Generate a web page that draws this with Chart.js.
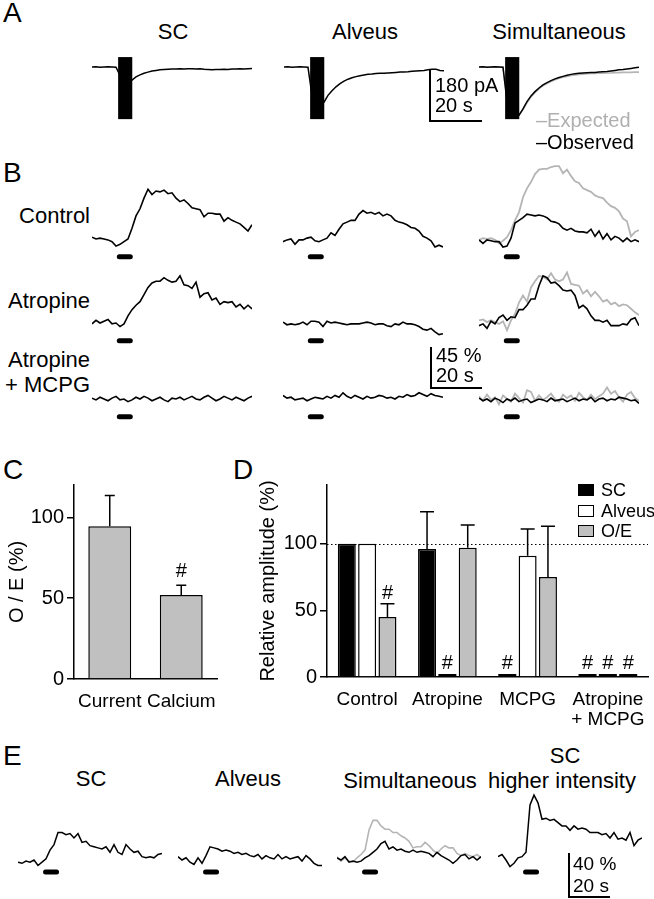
<!DOCTYPE html>
<html><head><meta charset="utf-8">
<script src="https://cdn.jsdelivr.net/npm/chart.js@4.4.1/dist/chart.umd.min.js"></script>
<style>
html,body{margin:0;padding:0;background:#fff;}
body{width:654px;height:899px;position:relative;overflow:hidden;font-family:"Liberation Sans",Arial,Helvetica,sans-serif;color:#000;}
canvas{position:absolute;}
.t{position:absolute;white-space:nowrap;line-height:1;}
.ln{position:absolute;background:#000;}
.box{position:absolute;border:1.5px solid #000;box-sizing:border-box;}
</style></head><body>
<script>
// ---------------- DATA ----------------
// Panel A: currents (pA), sampled every 1.5 s
const A_DT = 1.5;
const currentSC   = [0,1,-1,0,1,0,-1,-30,-60,-55,-46,-35,-28,-22,-18,-14,-12,-10,-9,-8,-7,-7,-6,-7,-6,-6,-7,-6,-8,-9,-10,-9,-9,-8,-9,-7,-7,-6,-7,-6,-5];
const currentAlv  = [0,1,-1,0,1,0,-1,-100,-140,-135,-124,-100,-84,-70,-59,-50,-43,-38,-34,-31,-28,-26,-25,-23,-22,-22,-21,-20,-19,-18,-18,-17,-15,-14,-13,-12,-10,-8,-8,-12,-13];
const currentObs  = [0,1,-1,0,1,0,-1,-120,-175,-180,-170,-148,-122,-102,-87,-74,-63,-55,-48,-42,-37,-33,-29,-26,-24,-22,-21,-20,-19,-19,-18,-17,-16,-14,-12,-10,-9,-7,-5,-3,-1];
const currentExp  = [0,1,-1,0,1,0,-1,-120,-175,-180,-170,-150,-126,-106,-90,-77,-66,-58,-51,-45,-40,-36,-33,-30,-28,-26,-25,-24,-23,-23,-22,-22,-21,-21,-20,-20,-19,-19,-19,-18,-18];
const artifactWindow = [9.8, 15.1];   // s
const artifactRange  = [35, -184];    // pA

// Panel B: calcium signals (%), sampled every 1.5 s
const B_DT = 1.5;
const ctlSC     = [2,0,1,0,-1,-3,-8,-6,-3,0,12,26,34,46,56,50,54,53,55,51,52,46,42,44,40,35,34,33,25,29,29,28,28,20,24,21,19,17,13,9,16];
const ctlAlv    = [-3,-1,0,-6,-1,-1,1,2,-2,-3,-1,1,7,4,11,17,19,21,21,28,32,29,30,28,30,26,28,26,21,19,18,16,13,12,9,3,1,-2,-9,-7,-9];
const ctlObs    = [-1,-5,-1,-2,-3,-3,-9,-8,1,18,21,24,28,27,26,27,26,24,20,19,17,12,10,12,9,8,8,7,11,3,9,0,6,-1,3,1,-3,1,-3,-1,-3];
const ctlExp    = [-1,1,0,1,-1,-5,-2,2,10,21,30,47,57,64,73,78,79,79,81,82,82,74,78,71,65,63,57,55,53,49,47,46,41,37,35,31,23,20,3,8,10];
const atrSC     = [-1,3,0,2,4,-1,0,-4,-1,8,15,20,24,32,40,45,47,47,51,48,46,47,53,43,42,39,46,29,33,34,26,28,21,24,23,24,18,21,16,20,16];
const atrAlv    = [1,-2,-1,-2,-1,1,-2,2,2,1,-4,2,0,1,0,-1,-2,-1,-1,-1,0,1,0,-2,-1,-1,-3,-4,-1,-2,1,-1,-1,-2,-4,-7,-8,-6,-10,-13,-12];
const atrObs    = [-3,-1,-6,2,-1,6,9,3,7,6,15,15,20,27,27,42,53,51,45,46,42,37,36,37,31,17,20,16,8,3,3,1,3,-3,-3,-3,-1,-2,4,6,-3];
const atrExp    = [3,4,1,3,1,-1,2,-8,3,10,23,31,24,40,47,53,52,49,56,49,47,49,57,44,43,42,33,37,30,35,30,24,26,21,23,19,21,20,16,12,9];
const amSC      = [1,-1,2,0,-2,1,3,-1,0,-3,-1,2,0,3,1,-2,0,2,-1,-3,1,0,2,-1,1,3,0,-1,2,4,1,-2,0,3,1,-1,2,0,-2,1,3];
const amAlv     = [4,1,2,-1,0,1,-2,0,2,1,0,3,1,4,2,7,3,1,4,2,0,3,1,2,4,3,1,2,0,3,2,5,3,4,7,5,3,6,4,3,2];
const amObs     = [1,-2,0,-3,1,-1,-4,0,-2,1,-3,-1,0,-4,-2,0,-1,-3,1,-2,-1,0,-3,-1,1,-2,0,-1,2,-3,0,1,-2,0,-1,2,1,0,-2,-1,-5];
const amExp     = [3,-2,5,-1,2,-6,4,0,-3,6,1,-4,10,8,-2,4,-1,2,6,0,-3,5,1,4,-2,7,2,-1,5,0,3,6,13,6,9,2,-3,5,8,1,-2];
const stimB     = [9.3, 15.3];   // s
const stimLevelB = -20;          // % (stimulus marker under traces)

// Panel C: observed / expected (%)
const condC = ['Current', 'Calcium'];
const oeC   = [94.5, 52];
const errC  = [19, 6];
const sigC  = ['', '#'];

// Panel D: relative amplitude (%)
const groupsD = ['Control', 'Atropine', 'MCPG', ['Atropine', '+ MCPG']];
const seriesD = ['SC', 'Alveus', 'O/E'];
const scD   = [100, 96, 1, 1];
const scErr = [0, 28, 0, 0];
const scSig = ['', '', '#', '#'];
const alD   = [100, 1, 91, 1];
const alErr = [0, 0, 20, 0];
const alSig = ['', '#', '', '#'];
const oeD   = [45, 97, 75, 1];
const oeErr = [10, 17, 38, 0];
const oeSig = ['#', '', '', '#'];
const refD  = 100;

// Panel E: calcium signals (%), sampled every 1.9 s
const E_DT = 1.9;
const eSC   = [-2,-3,-1,-2,0,-5,-2,1,9,14,25,25,23,24,20,24,16,17,13,12,11,10,12,7,14,7,5,14,10,7,8,3,2,3,2,5,6];
const eAlv  = [3,0,2,-2,-4,2,-3,4,12,11,10,8,9,8,6,7,5,6,4,3,5,1,4,2,1,5,1,3,1,2,3,-1,4,1,-3,-5,-5];
const eObs  = [2,0,3,-2,-1,-2,-1,2,4,7,10,15,17,10,12,9,10,8,7,9,7,8,7,6,3,7,4,2,0,-3,0,4,5,1,3,0,3];
const eExp  = [3,-1,2,-1,-2,2,5,9,27,36,36,31,28,28,25,25,22,20,17,11,12,12,16,13,9,6,10,13,11,11,6,4,6,4,3,5,2];
const eHigh = [3,5,0,-6,-3,2,3,7,50,59,52,37,38,36,37,34,31,31,27,31,28,29,28,25,25,25,23,24,20,25,19,20,18,25,13,18,20];
const stimE = [11.9, 19.5];
const stimLevelE = -11;

// ---------------- STYLE / LAYOUT ----------------
const FONT = '"Liberation Sans", Arial, Helvetica, sans-serif';
const BLACK = '#000', GREYLINE = '#b5b5b5', GREYBAR = '#c0c0c0';
Chart.defaults.font.family = FONT;
Chart.defaults.color = '#000';
Chart.defaults.animation = false;

function canvasAt(left, top, w, h) {
  const c = document.createElement('canvas');
  c.width = w; c.height = h;
  c.style.left = left + 'px'; c.style.top = top + 'px';
  c.style.width = w + 'px'; c.style.height = h + 'px';
  document.body.appendChild(c);
  return c;
}
function txt(s, x, y, size, align, color) {
  const d = document.createElement('div');
  d.className = 't'; d.textContent = s; d.style.fontSize = size + 'px'; d.style.top = y + 'px';
  if (align === 'center') { d.style.left = x + 'px'; d.style.transform = 'translate(-50%,-50%)'; }
  else if (align === 'right') { d.style.right = (654 - x) + 'px'; d.style.transform = 'translateY(-50%)'; }
  else { d.style.left = x + 'px'; d.style.transform = 'translateY(-50%)'; }
  if (color) d.style.color = color;
  document.body.appendChild(d);
}
function rect(cls, l, t, w, h, bg) {
  const d = document.createElement('div'); d.className = cls;
  Object.assign(d.style, {left: l + 'px', top: t + 'px', width: w + 'px', height: h + 'px'});
  if (bg) d.style.background = bg;
  document.body.appendChild(d);
}
function scaleBar(x, y0, y1, x1) {
  rect('ln', x, y0, 1.5, y1 - y0 + 1.5);
  rect('ln', x, y1, x1 - x, 1.5);
}

const markPlugin = {
  id: 'marks',
  afterDatasetsDraw(chart, args, o) {
    const {ctx, scales: {x, y}} = chart;
    ctx.save(); ctx.fillStyle = BLACK;
    if (o.stim) {
      const x0 = x.getPixelForValue(o.stim[0]), x1 = x.getPixelForValue(o.stim[1]);
      const yc = y.getPixelForValue(o.stimLevel);
      ctx.beginPath(); ctx.roundRect(x0, yc - 2.5, x1 - x0, 5, 2.5); ctx.fill();
    }
    if (o.artifact) {
      const x0 = x.getPixelForValue(o.artifact[0]), x1 = x.getPixelForValue(o.artifact[1]);
      const y0 = y.getPixelForValue(o.artifactRange[0]), y1 = y.getPixelForValue(o.artifactRange[1]);
      ctx.fillRect(x0, y0, x1 - x0, y1 - y0);
    }
    ctx.restore();
  }
};

function traceChart(left, top, w, h, base, k, dt, n, series, marks) {
  const c = canvasAt(left, top, w, h);
  const t = Array.from({length: n}, (_, i) => i * dt);
  new Chart(c, {
    type: 'line',
    data: {datasets: series.map(s => ({
      data: s.v.map((v, i) => ({x: t[i], y: v})),
      borderColor: s.c, borderWidth: s.w, pointRadius: 0, tension: 0, clip: false, fill: false
    }))},
    options: {
      responsive: false, animation: false, events: [], layout: {padding: 0},
      plugins: {legend: {display: false}, tooltip: {enabled: false}, marks: marks || {}},
      scales: {
        x: {type: 'linear', display: false, min: 0, max: (n - 1) * dt},
        y: {type: 'linear', display: false, min: -(top + h - base) * k, max: (base - top) * k}
      }
    },
    plugins: [markPlugin]
  });
}

// ---------- Panel A ----------
txt('A', 3, 13, 28);
txt('SC', 173, 32, 22, 'center');
txt('Alveus', 365, 32, 22, 'center');
txt('Simultaneous', 559, 32, 22, 'center');
const kA = 180 / 51;
const artA = {artifact: artifactWindow, artifactRange};
traceChart(92, 45, 160, 85, 67, kA, A_DT, currentSC.length, [{v: currentSC, c: BLACK, w: 1.5}], artA);
traceChart(284, 45, 160, 85, 67, kA, A_DT, currentAlv.length, [{v: currentAlv, c: BLACK, w: 1.5}], artA);
traceChart(479, 45, 160, 85, 67, kA, A_DT, currentObs.length, [{v: currentObs, c: BLACK, w: 1.5}, {v: currentExp, c: GREYLINE, w: 1.6}], artA);
scaleBar(429, 69, 120, 482);
txt('180 pA', 435, 85, 20);
txt('20 s', 435, 105, 20);
txt('–Expected', 536, 120, 20, null, '#b0b0b0');
txt('–Observed', 536, 142, 20);

// ---------- Panel B ----------
txt('B', 3, 173, 28);
txt('Control', 90, 216, 22, 'right');
txt('Atropine', 90, 301, 22, 'right');
txt('Atropine', 90, 360, 22, 'right');
txt('+ MCPG', 90, 385, 22, 'right');
const kB = 45 / 40;
const stB = {stim: stimB, stimLevel: stimLevelB};
const rowsB = [
  {top: 160, h: 105, base: 239, sc: ctlSC, al: ctlAlv, ob: ctlObs, ex: ctlExp},
  {top: 265, h: 85, base: 323, sc: atrSC, al: atrAlv, ob: atrObs, ex: atrExp},
  {top: 378, h: 47, base: 399, sc: amSC, al: amAlv, ob: amObs, ex: amExp}
];
rowsB.forEach(r => {
  traceChart(92, r.top, 160, r.h, r.base, kB, B_DT, r.sc.length, [{v: r.sc, c: BLACK, w: 1.6}], stB);
  traceChart(283, r.top, 160, r.h, r.base, kB, B_DT, r.al.length, [{v: r.al, c: BLACK, w: 1.6}], stB);
  traceChart(479, r.top, 160, r.h, r.base, kB, B_DT, r.ob.length, [{v: r.ob, c: BLACK, w: 1.6}, {v: r.ex, c: GREYLINE, w: 1.8}], stB);
});
scaleBar(430, 347, 387, 482);
txt('45 %', 436, 355, 20);
txt('20 s', 436, 375, 20);

// ---------- Bar chart helpers ----------
const barExtras = {
  id: 'barExtras',
  beforeDatasetsDraw(chart, args, o) {
    if (o.refLine == null) return;
    const {ctx, chartArea, scales: {y}} = chart;
    const yy = Math.round(y.getPixelForValue(o.refLine)) + 0.5;
    ctx.save(); ctx.strokeStyle = BLACK; ctx.lineWidth = 1.2; ctx.setLineDash([1.5, 2.5]);
    ctx.beginPath(); ctx.moveTo(chartArea.left, yy); ctx.lineTo(chartArea.right, yy); ctx.stroke();
    ctx.restore();
  },
  afterDatasetsDraw(chart, args, o) {
    const {ctx, scales: {y}} = chart;
    const y0 = y.getPixelForValue(0);
    ctx.save();
    ctx.strokeStyle = BLACK; ctx.fillStyle = BLACK; ctx.lineWidth = 1.5;
    ctx.font = '20px ' + FONT; ctx.textAlign = 'center'; ctx.textBaseline = 'alphabetic';
    chart.data.datasets.forEach((ds, di) => {
      const meta = chart.getDatasetMeta(di);
      meta.data.forEach((bar, i) => {
        const e = o.err[di][i] || 0;
        const yt = y.getPixelForValue(ds.data[i] + e);
        // near-zero bars are drawn as a flat black bar on the axis
        if (ds.data[i] <= 1) ctx.fillRect(bar.x - bar.width / 2, y0 - 3, bar.width, 3);
        if (e) {
          ctx.beginPath();
          ctx.moveTo(bar.x, bar.y); ctx.lineTo(bar.x, yt);
          ctx.moveTo(bar.x - o.cap / 2, yt); ctx.lineTo(bar.x + o.cap / 2, yt);
          ctx.stroke();
        }
        if (o.sig[di][i]) ctx.fillText(o.sig[di][i], bar.x, Math.min(yt, y0 - 3) - o.gap);
      });
    });
    ctx.restore();
  }
};
function yAxis(max, width, title, titlePad) {
  return {
    min: 0, max: max,
    ticks: {stepSize: 50, includeBounds: false, font: {size: 20}, padding: 3, color: BLACK},
    grid: {drawOnChartArea: false, color: BLACK, lineWidth: 1.5, tickLength: 7},
    border: {display: true, color: BLACK, width: 1.5},
    title: {display: true, text: title, font: {size: 20}, color: BLACK, padding: {top: titlePad, bottom: 0}},
    afterFit(s) { s.width = width; }
  };
}
function xAxis(height) {
  return {
    grid: {display: false},
    border: {display: true, color: BLACK, width: 1.5},
    ticks: {font: {size: 19, lineHeight: 1.05}, padding: 5, color: BLACK, autoSkip: false, maxRotation: 0},
    afterFit(s) { s.height = height; }
  };
}

// ---------- Panel C ----------
txt('C', 3, 470, 28);
new Chart(canvasAt(0, 470, 230, 240), {
  type: 'bar',
  data: {labels: condC, datasets: [{data: oeC, backgroundColor: GREYBAR, borderColor: BLACK, borderWidth: 1.5,
    categoryPercentage: 1, barPercentage: 0.6}]},
  options: {
    responsive: false, animation: false, events: [],
    layout: {padding: {top: 7, right: 13, left: 0, bottom: 0}},
    plugins: {legend: {display: false}, tooltip: {enabled: false},
      barExtras: {err: [errC], sig: [sigC], cap: 10, gap: 8}},
    scales: {x: xAxis(31), y: yAxis(120, 74, 'O / E (%)', 5)}
  },
  plugins: [barExtras]
});

// ---------- Panel D ----------
txt('D', 233, 470, 28);
new Chart(canvasAt(248, 470, 406, 260), {
  type: 'bar',
  data: {labels: groupsD, datasets: [
    {label: seriesD[0], data: scD, backgroundColor: BLACK},
    {label: seriesD[1], data: alD, backgroundColor: '#fff'},
    {label: seriesD[2], data: oeD, backgroundColor: GREYBAR}
  ].map(d => Object.assign(d, {borderColor: BLACK, borderWidth: 1.5, categoryPercentage: 0.76, barPercentage: 0.885}))},
  options: {
    responsive: false, animation: false, events: [],
    layout: {padding: {top: 7, right: 6, left: 0, bottom: 0}},
    plugins: {legend: {display: false}, tooltip: {enabled: false},
      barExtras: {err: [scErr, alErr, oeErr], sig: [scSig, alSig, oeSig], cap: 14, gap: 5, refLine: refD}},
    scales: {x: xAxis(53), y: yAxis(144, 79, 'Relative amplitude (%)', 8)}
  },
  plugins: [barExtras]
});
// legend D
[[BLACK, 484], ['#fff', 505], [GREYBAR, 525]].forEach((b, i) => {
  rect('box', 578, b[1], 16, 12, b[0]);
  txt(seriesD[i], 601, b[1] + 6, 18);
});

// ---------- Panel E ----------
txt('E', 3, 756, 28);
txt('SC', 91, 779, 22, 'center');
txt('Alveus', 248, 779, 22, 'center');
txt('Simultaneous', 410, 781, 22, 'center');
txt('SC', 565, 756, 22, 'center');
txt('higher intensity', 562, 781, 22, 'center');
const kE = 40 / 44;
const stE = {stim: stimE, stimLevel: stimLevelE};
traceChart(18, 785, 144, 95, 860, kE, E_DT, eSC.length, [{v: eSC, c: BLACK, w: 1.5}], stE);
traceChart(178, 785, 144, 95, 860, kE, E_DT, eAlv.length, [{v: eAlv, c: BLACK, w: 1.5}], stE);
traceChart(337, 785, 144, 95, 860, kE, E_DT, eObs.length, [{v: eObs, c: BLACK, w: 1.5}, {v: eExp, c: GREYLINE, w: 1.6}], stE);
traceChart(498, 785, 144, 95, 860, kE, E_DT, eHigh.length, [{v: eHigh, c: BLACK, w: 1.5}], stE);
scaleBar(568, 853, 896, 610);
txt('40 %', 573, 863, 19);
txt('20 s', 573, 885, 19);
</script>
</body></html>
